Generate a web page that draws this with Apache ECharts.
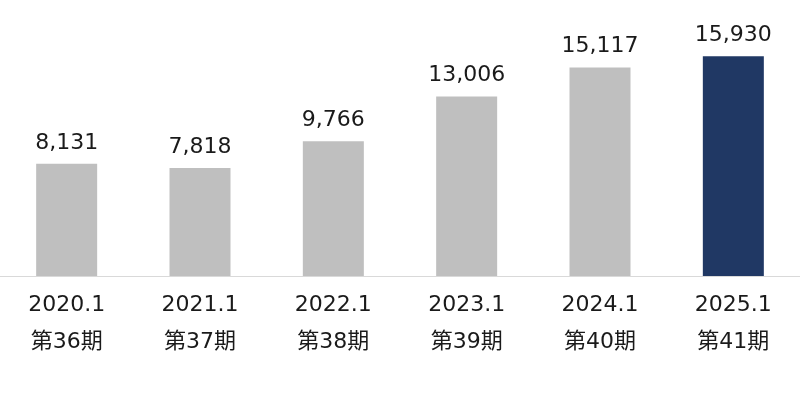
<!DOCTYPE html>
<html><head><meta charset="utf-8">
<script src="https://cdn.jsdelivr.net/npm/echarts@6/dist/echarts.min.js"></script>
<style>html,body{margin:0;padding:0;background:#fff}#c{width:800px;height:400px}</style>
</head><body><div id="c"></div>
<script>
const periods = ['2020.1','2021.1','2022.1','2023.1','2024.1','2025.1'];
const terms = ['第36期','第37期','第38期','第39期','第40期','第41期'];
const values = [8131, 7818, 9766, 13006, 15117, 15930];
const categories = periods.map((p, i) => p + '\n' + terms[i]);
const font = "'DejaVu Sans','Noto Sans CJK JP',sans-serif";
const chart = echarts.init(document.getElementById('c'));
chart.setOption({
  animation: false,
  grid: {left: 0, right: 0, top: 0, bottom: 124},
  xAxis: {
    type: 'category', data: categories,
    axisLine: {lineStyle: {color: '#d9d9d9', width: 1}},
    axisTick: {show: false},
    axisLabel: {fontFamily: font, fontSize: 22, color: '#1a1a1a', lineHeight: 37, margin: 11, interval: 0}
  },
  yAxis: {type: 'value', min: 0, max: 20000, show: false, splitLine: {show: false}},
  series: [{
    type: 'bar', barWidth: 61,
    data: values.map((v, i) => ({value: v, itemStyle: {color: i === values.length - 1 ? '#203864' : '#bfbfbf'}})),
    label: {show: true, position: 'top', distance: 10, fontFamily: font, fontSize: 22, color: '#1a1a1a',
      formatter: p => p.value.toLocaleString('en-US')}
  }]
});
</script></body></html>
